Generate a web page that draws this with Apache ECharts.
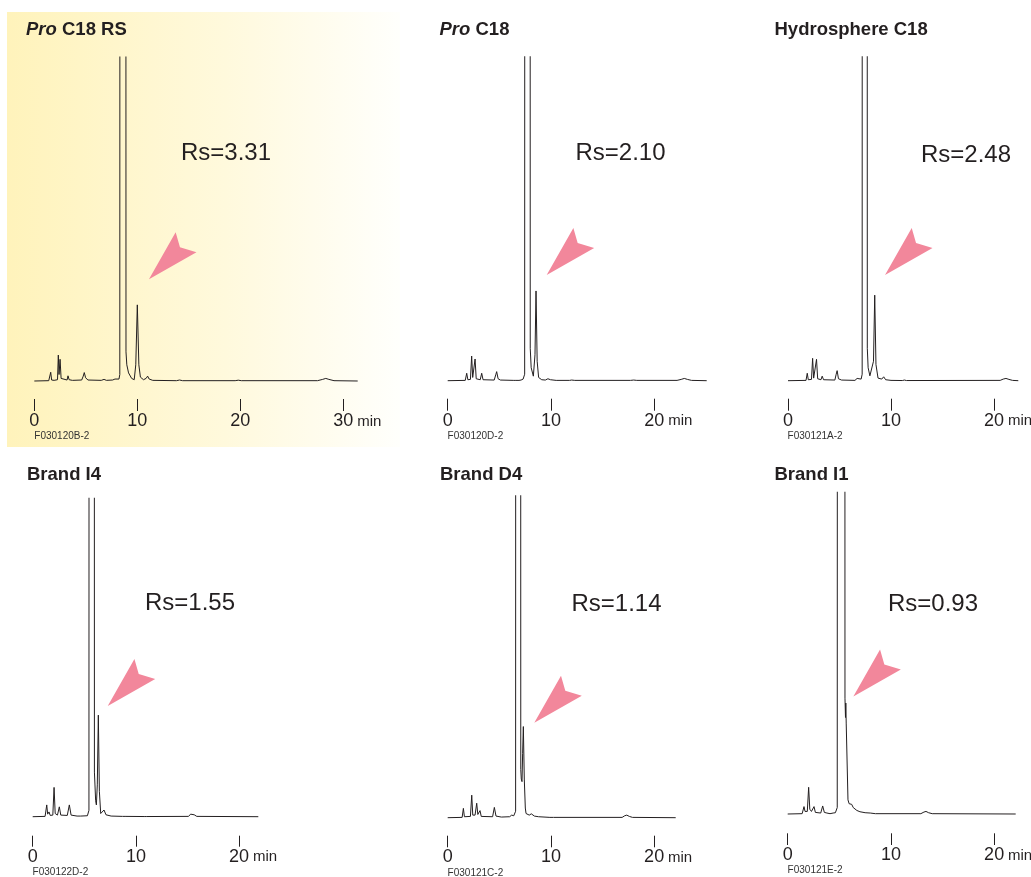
<!DOCTYPE html>
<html>
<head>
<meta charset="utf-8">
<script src="https://cdn.jsdelivr.net/npm/echarts@6/dist/echarts.min.js"></script>
<style>
html,body{margin:0;padding:0;background:#fff;}
#chart{width:1031px;height:877px;}
</style>
</head>
<body>
<div id="chart"></div>
<script>
// ---------- DATA (time in min, signal in % of the plotted full scale; main peaks go off-scale) ----------
const panelTitles = ['{i|Pro} C18 RS', '{i|Pro} C18', 'Hydrosphere C18', 'Brand I4', 'Brand D4', 'Brand I1'];
const rsLabels = ['Rs=3.31', 'Rs=2.10', 'Rs=2.48', 'Rs=1.55', 'Rs=1.14', 'Rs=0.93'];
const fileCodes = ['F030120B-2', 'F030120D-2', 'F030121A-2', 'F030122D-2', 'F030121C-2', 'F030121E-2'];
const xTickValues = [[0, 10, 20, 30], [0, 10, 20], [0, 10, 20], [0, 10, 20], [0, 10, 20], [0, 10, 20]];
const runEnd = [31.4, 25.07, 22.36, 21.86, 22.09, 22.09];
// arrow tip position [min, signal]
const arrowTips = [[11.13, 31.4], [9.58, 32.6], [9.42, 32.6], [7.27, 34.8], [8.39, 29.5], [6.36, 36.5]];

const traceProC18RS = [[0,0],[1.4,0.1],[1.5,0.3],[1.59,2.7],[1.68,0.3],[1.8,0.2],[1.85,0.7],[1.92,0.2],[2.25,0.4],[2.33,8.0],[2.4,2.0],[2.44,1.5],[2.5,6.7],[2.6,0.8],[2.75,0.3],[3.18,0.3],[3.27,1.6],[3.38,0.4],[3.7,0.2],[4.6,0.3],[4.75,1.5],[4.85,2.6],[4.98,1.0],[5.2,0.3],[6.5,0.2],[6.77,0.5],[7.0,0.2],[7.6,0.3],[7.83,0.6],[8.0,0.3],[8.22,0.6],[8.3,2],[8.6,5000],[8.9,9],[8.98,5],[9.15,2.5],[9.45,0.8],[9.7,0.4],[9.85,5],[10.0,23.5],[10.15,5],[10.3,1.2],[10.6,0.4],[10.85,0.8],[11.0,1.5],[11.15,0.6],[11.5,0.2],[13.8,0.1],[14.1,0.3],[14.4,0.1],[19.5,0.1],[19.8,0.25],[20.1,0.1],[27.5,0.1],[28.0,0.5],[28.3,0.8],[28.6,0.5],[29.1,0.1],[31.4,0]];
const traceProC18 = [[0,0],[1.7,0.1],[1.84,2.3],[1.95,0.3],[2.2,0.4],[2.32,7.6],[2.42,1.0],[2.52,0.8],[2.65,6.7],[2.76,0.6],[3.15,0.3],[3.29,2.3],[3.42,0.3],[4.5,0.2],[4.65,1.8],[4.74,2.8],[4.88,0.6],[5.1,0.2],[6.4,0.1],[6.5,0.5],[6.6,0.1],[6.9,0.1],[7.0,0.6],[7.1,0.2],[7.3,0.5],[7.45,2],[7.72,5000],[7.99,10],[8.08,4],[8.29,1.4],[8.45,8],[8.55,27.7],[8.66,6],[8.8,1.0],[9.1,0.3],[9.26,0.6],[9.45,0.2],[9.7,0.6],[9.8,1.2],[9.95,0.3],[10.5,0.1],[11.8,0.1],[12.0,0.2],[12.3,0.1],[17.7,0.1],[18.0,0.2],[18.3,0.1],[22.2,0.1],[22.6,0.4],[22.9,0.7],[23.2,0.4],[23.6,0.1],[25.07,0]];
const traceHydrosphere = [[0,0],[1.75,0.1],[1.87,2.3],[1.97,0.3],[2.28,0.4],[2.39,6.9],[2.49,0.8],[2.62,0.6],[2.77,6.6],[2.88,0.6],[3.2,0.3],[3.32,1.4],[3.45,0.3],[4.55,0.2],[4.68,2.0],[4.77,3.1],[4.9,0.6],[5.2,0.2],[6.5,0.1],[6.71,0.7],[6.85,0.3],[7.1,0.5],[7.2,2],[7.45,5000],[7.7,10],[7.78,4],[7.95,1.5],[8.1,0.9],[8.3,6],[8.42,26.4],[8.54,5],[8.74,0.8],[9.1,0.5],[9.29,1.2],[9.48,0.3],[10,0.1],[11.1,0.05],[11.3,0.2],[11.5,0.05],[20.6,0.1],[20.9,0.5],[21.16,0.7],[21.45,0.4],[21.8,0.1],[22.36,0]];
const traceBrandI4 = [[0,0],[1.2,0.1],[1.3,0.5],[1.36,3.7],[1.45,0.8],[1.58,1.5],[1.7,0.4],[1.95,0.5],[2.07,9.2],[2.18,1.0],[2.4,0.5],[2.58,3.1],[2.72,0.5],[3.35,0.4],[3.55,3.7],[3.72,0.5],[4.3,0.2],[4.49,0.8],[4.65,0.2],[5.3,0.3],[5.45,2],[5.74,5000],[5.98,14],[6.1,5],[6.17,3.7],[6.26,10],[6.36,31.9],[6.46,8],[6.59,1.0],[6.75,1.0],[6.91,2.1],[7.1,0.6],[7.6,0.2],[8.7,0.1],[8.8,0.3],[8.95,0.1],[10.8,0.05],[10.9,0.15],[11.0,0.05],[15.1,0.1],[15.3,0.8],[15.47,1.3],[15.65,0.6],[15.9,0.1],[21.86,0]];
const traceBrandD4 = [[0,0],[1.4,0.1],[1.52,2.9],[1.62,0.3],[2.2,0.4],[2.33,7.0],[2.43,0.8],[2.65,0.8],[2.81,4.5],[2.92,1.0],[3.0,0.8],[3.13,2.2],[3.25,0.4],[4.35,0.3],[4.52,3.2],[4.68,0.5],[5.2,0.2],[6.0,0.3],[6.2,0.8],[6.4,0.6],[6.58,2],[6.83,5000],[7.08,15],[7.13,12],[7.2,11.2],[7.26,20],[7.33,28.3],[7.42,12],[7.52,3],[7.59,1.3],[7.9,0.8],[8.1,1.2],[8.24,1.6],[8.4,0.5],[8.8,0.3],[9.9,0.1],[10.08,0.25],[10.25,0.1],[16.9,0.1],[17.15,0.6],[17.35,0.8],[17.6,0.4],[17.9,0.1],[22.09,0]];
const traceBrandI1 = [[0,0],[1.4,0.1],[1.5,0.5],[1.58,2.3],[1.68,0.8],[1.78,1.2],[1.9,0.8],[2.03,8.3],[2.14,1.5],[2.3,0.8],[2.42,0.6],[2.55,2.3],[2.68,0.5],[3.2,0.3],[3.39,2.5],[3.55,0.5],[3.8,0.3],[4.1,0.1],[4.4,0.3],[4.62,0.4],[4.8,2],[5.15,5000],[5.55,36],[5.6,30],[5.63,34.5],[5.67,28],[5.84,4.4],[5.95,3.2],[6.1,2.6],[6.2,3.0],[6.35,2.0],[6.7,1.1],[7.0,0.7],[7.5,0.4],[8.0,0.3],[8.5,0.1],[12.9,0.1],[13.2,0.6],[13.4,0.8],[13.65,0.4],[14.0,0.1],[22.09,0]];
const traces = [traceProC18RS, traceProC18, traceHydrosphere, traceBrandI4, traceBrandD4, traceBrandI1];

// ---------- LAYOUT (pixels) ----------
const layout = [
  {left: 34.33, xEnd: 357.7, top: 57,    base: 381,   axisY: 411,   tick: 12,   minX: 355,   titleX: 26,  titleY: 29.5, rsX: 181,   rsY: 153.7, codeX: 34.3,  codeY: 436},
  {left: 447.7, xEnd: 706.7, top: 56.7,  base: 380.7, axisY: 410.7, tick: 12,   minX: 667,   titleX: 439.5, titleY: 29.5, rsX: 575.5, rsY: 153.7, codeX: 447.6, codeY: 436},
  {left: 788,   xEnd: 1018.3, top: 56.7, base: 380.7, axisY: 410.7, tick: 12,   minX: 1004,  titleX: 774.5, titleY: 29.7, rsX: 921,   rsY: 155,   codeX: 787.6, codeY: 436},
  {left: 32.7,  xEnd: 258.3, top: 498.3, base: 816.7, axisY: 846.7, tick: 11,   minX: 251,   titleX: 27,  titleY: 475.3, rsX: 145,   rsY: 603.5, codeX: 32.6,  codeY: 872},
  {left: 447.7, xEnd: 675.7, top: 495.7, base: 817.7, axisY: 847.3, tick: 11.6, minX: 664.7, titleX: 440, titleY: 475.3, rsX: 571.5, rsY: 604,   codeX: 447.6, codeY: 873.5},
  {left: 787.7, xEnd: 1015.7, top: 492.3, base: 814, axisY: 845,   tick: 11.7, minX: 1005.7, titleX: 774.5, titleY: 475.3, rsX: 888, rsY: 604,   codeX: 787.6, codeY: 870}
];

const INK = '#231f20';
const FONT = "'Liberation Sans', Arial, Helvetica, sans-serif";
const Y_MAX = 100;
const arrowPath = 'path://M0,47 L26.7,0 L31,15 L47.5,20 Z';

const grids = [], xAxes = [], yAxes = [], series = [], graphics = [];

// panel 1 shaded background
graphics.push({
  type: 'rect', z: -10, silent: true,
  shape: {x: 7, y: 12, width: 393, height: 435},
  style: {fill: new echarts.graphic.LinearGradient(0, 0, 1, 0, [
    {offset: 0, color: '#fff3bb'}, {offset: 0.55, color: '#fff9dc'}, {offset: 1, color: '#fffffc'}])}
});

layout.forEach((L, i) => {
  const k = (L.base - L.top) / Y_MAX;          // px per signal unit
  const yMin = -(L.axisY - L.base) / k;          // grid bottom sits on the tick line
  grids.push({left: L.left, top: L.top, width: L.xEnd - L.left, height: L.axisY - L.top,
    containLabel: false, outerBoundsMode: 'none', show: false});
  xAxes.push({
    type: 'value', gridIndex: i, min: 0, max: runEnd[i], position: 'bottom',
    axisLine: {show: false, onZero: false},
    splitLine: {show: false},
    axisTick: {show: true, inside: true, length: L.tick, customValues: xTickValues[i],
      lineStyle: {color: INK, width: 1}},
    axisLabel: {show: true, customValues: xTickValues[i], margin: 1,
      color: INK, fontSize: 18, fontFamily: FONT},
    name: 'min', nameLocation: 'end', nameGap: L.minX - L.xEnd,
    nameTextStyle: {color: INK, fontSize: 15, fontFamily: FONT, align: 'left',
      verticalAlign: 'top', padding: [3, 0, 0, 0]}
  });
  yAxes.push({type: 'value', gridIndex: i, min: yMin, max: Y_MAX, show: false, splitLine: {show: false}});
  series.push({
    type: 'line', xAxisIndex: i, yAxisIndex: i, data: traces[i],
    showSymbol: false, clip: true, silent: true, animation: false,
    lineStyle: {color: INK, width: 1},
    markPoint: {
      silent: true, animation: false,
      symbol: arrowPath, symbolSize: [47.5, 47], symbolOffset: [23.75, -23.5],
      itemStyle: {color: '#f2879b'}, label: {show: false},
      data: [{coord: arrowTips[i]}]
    }
  });
  graphics.push({
    type: 'text', x: L.titleX, y: L.titleY, silent: true,
    style: {text: panelTitles[i], fill: INK, font: 'bold 18.5px ' + FONT,
      textAlign: 'left', textVerticalAlign: 'middle',
      rich: {i: {fontStyle: 'italic', fontWeight: 'bold', fontSize: 18.5, fontFamily: FONT, fill: INK}}}
  });
  graphics.push({
    type: 'text', x: L.rsX, y: L.rsY, silent: true,
    style: {text: rsLabels[i], fill: INK, font: '24px ' + FONT, textAlign: 'left', textVerticalAlign: 'middle'}
  });
  graphics.push({
    type: 'text', x: L.codeX, y: L.codeY, silent: true,
    style: {text: fileCodes[i], fill: '#333333', font: '10px ' + FONT, textAlign: 'left', textVerticalAlign: 'middle'}
  });
});

const chart = echarts.init(document.getElementById('chart'), null, {renderer: 'canvas'});
chart.setOption({
  animation: false,
  backgroundColor: '#ffffff',
  grid: grids, xAxis: xAxes, yAxis: yAxes, series: series, graphic: graphics
});
</script>
</body>
</html>
